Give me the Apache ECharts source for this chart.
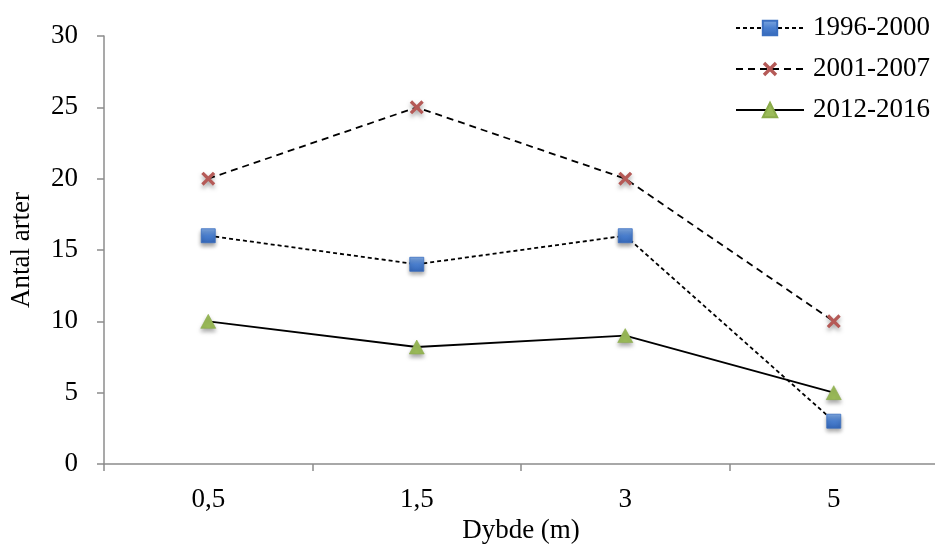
<!DOCTYPE html>
<html><head><meta charset="utf-8">
<script src="https://cdn.jsdelivr.net/npm/echarts@6/dist/echarts.min.js"></script>
<style>html,body{margin:0;padding:0;background:#fff}#c{width:935px;height:545px}</style>
</head><body><div id="c"></div>
<script>
const categories = ['0,5', '1,5', '3', '5'];
const s1996 = [16, 14, 16, 3];
const s2001 = [20, 25, 20, 10];
const s2012 = [10, 8.2, 9, 5];
const seriesNames = ['1996-2000', '2001-2007', '2012-2016'];
const yTicks = {min: 0, max: 30, interval: 5};

const font = 'Liberation Serif';
const fs = 27;
const chart = echarts.init(document.getElementById('c'));
const shadow = {shadowColor: 'rgba(0,0,0,0.35)', shadowBlur: 4, shadowOffsetY: 3};
chart.setOption({
  animation: false,
  grid: {left: 104, right: -3, top: 36, bottom: 81, containLabel: false, outerBoundsMode: 'none'},
  legend: {
    left: 730, top: 8, orient: 'vertical', itemGap: 11, itemWidth: 68, itemHeight: 18,
    textStyle: {fontFamily: font, fontSize: fs, color: '#000', lineHeight: 30, padding: [0, 0, 0, 4]},
    data: seriesNames
  },
  xAxis: {
    type: 'category', data: categories, boundaryGap: true,
    name: 'Dybde (m)', nameLocation: 'middle', nameGap: 51,
    nameTextStyle: {fontFamily: font, fontSize: fs, color: '#000'},
    axisLine: {lineStyle: {color: '#8c8c8c', width: 1.5}},
    axisTick: {show: true, length: 7, lineStyle: {color: '#8c8c8c', width: 1.5}},
    axisLabel: {fontFamily: font, fontSize: fs, color: '#000', margin: 22}
  },
  yAxis: {
    type: 'value', min: yTicks.min, max: yTicks.max, interval: yTicks.interval,
    name: 'Antal arter', nameLocation: 'middle', nameGap: 69,
    nameTextStyle: {fontFamily: font, fontSize: fs, color: '#000'},
    axisLine: {show: true, lineStyle: {color: '#8c8c8c', width: 1.5}},
    axisTick: {show: true, length: 7, lineStyle: {color: '#8c8c8c', width: 1.5}},
    splitLine: {show: false},
    axisLabel: {fontFamily: font, fontSize: fs, color: '#000', margin: 26}
  },
  series: [
    {
      name: seriesNames[0], type: 'line', data: s1996,
      symbol: 'rect', symbolSize: 14,
      lineStyle: {color: '#000', width: 1.8, type: [4, 3]},
      itemStyle: Object.assign({
        color: new echarts.graphic.LinearGradient(0, 0, 0, 1, [
          {offset: 0, color: '#7fa8e0'}, {offset: 0.5, color: '#4a7fcf'}, {offset: 1, color: '#3467b8'}]),
        borderColor: '#3b6fc0', borderWidth: 0.8
      }, shadow)
    },
    {
      name: seriesNames[1], type: 'line', data: s2001,
      symbol: 'path://M2,0 L6,4 L10,0 L12,2 L8,6 L12,10 L10,12 L6,8 L2,12 L0,10 L4,6 L0,2 Z', symbolSize: 14,
      lineStyle: {color: '#000', width: 1.8, type: [7, 5]},
      itemStyle: Object.assign({color: '#b55a57', borderWidth: 0}, shadow)
    },
    {
      name: seriesNames[2], type: 'line', data: s2012,
      symbol: 'triangle', symbolSize: [15, 14],
      lineStyle: {color: '#000', width: 1.8, type: 'solid'},
      itemStyle: Object.assign({color: '#9bbb59', borderColor: '#8aab4a', borderWidth: 0.6}, shadow)
    }
  ]
});
</script></body></html>
